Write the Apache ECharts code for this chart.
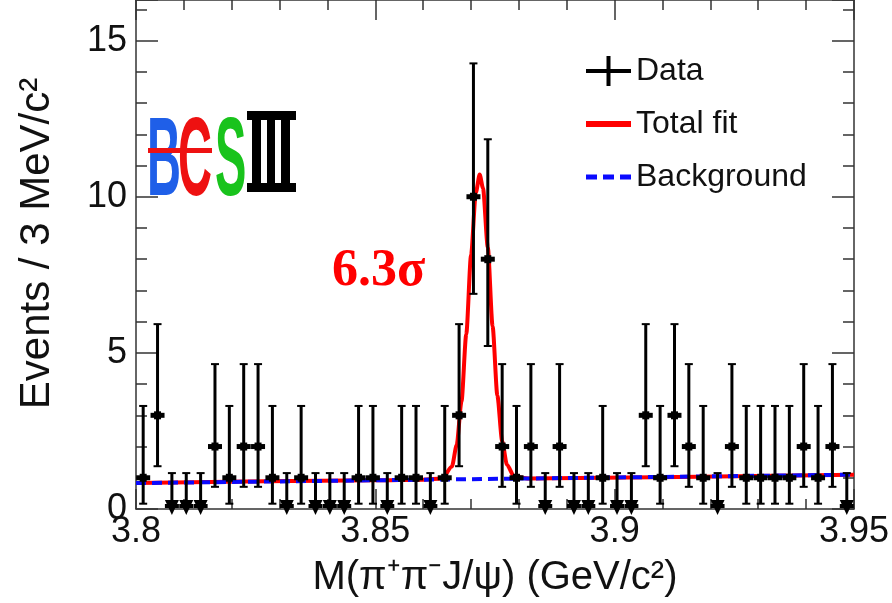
<!DOCTYPE html>
<html>
<head>
<meta charset="utf-8">
<script src="https://cdn.jsdelivr.net/npm/echarts@6/dist/echarts.min.js"></script>
<style>
html, body { margin: 0; padding: 0; background: #fff; }
#chart { width: 892px; height: 603px; }
</style>
</head>
<body>
<div id="chart"></div>
<script>
// histogram binning (GeV/c^2)
const xMin = 3.8
const xMax = 3.95
const binWidth = 0.003

// events per 3 MeV bin
const counts = [
  1, 3, 0, 0, 0, 2, 1, 2, 2, 1,
  0, 1, 0, 0, 0, 1, 1, 0, 1, 1,
  0, 1, 3, 10, 8, 2, 1, 2, 0, 2,
  0, 0, 1, 0, 0, 3, 1, 3, 2, 1,
  0, 2, 1, 1, 1, 1, 2, 1, 2, 0,
]

// asymmetric error bar ends for each count value
const errCounts = [0, 1, 2, 3, 8, 10]
const errLow = [0, 0.17, 0.71, 1.37, 5.22, 6.89]
const errHigh = [1.15, 3.30, 4.64, 5.92, 11.84, 14.27]

// total fit curve (signal + background)
const fitX = [3.800, 3.850, 3.860, 3.864, 3.866, 3.867, 3.868, 3.869, 3.870, 3.871,
  3.8718, 3.8725, 3.8735, 3.8745, 3.8755, 3.8765, 3.8775, 3.879, 3.882, 3.950]
const fitY = [0.83, 0.92, 0.94, 0.98, 1.36, 2.05, 3.44, 5.60, 8.13, 10.13,
  10.71, 10.27, 8.38, 5.85, 3.63, 2.17, 1.42, 1.04, 0.98, 1.10]

// background
const bkgX = [3.80, 3.95]
const bkgY = [0.83, 1.10]

const yTicks = [0, 5, 10, 15]

const dataRows = counts.map((n, i) => {
  const k = errCounts.indexOf(n)
  return [xMin + binWidth * (i + 0.5), n, errLow[k], errHigh[k]]
})

const chart = echarts.init(document.getElementById('chart'))
const font = 'Liberation Sans'
const axisColor = '#333'
const yMax = 16.3

const tickStyle = { color: axisColor, width: 1.5 }

chart.setOption({
  animation: false,
  textStyle: { fontFamily: font },
  grid: { left: 136, right: 37, top: 0, bottom: 94 },
  legend: {
    orient: 'vertical',
    left: 586,
    top: 55,
    padding: 0,
    itemWidth: 45,
    itemHeight: 30,
    itemGap: 21,
    symbolKeepAspect: true,
    selectedMode: false,
    textStyle: { fontSize: 32, color: '#111', fontFamily: font },
    data: [
      { name: 'Data', icon: 'path://M0,13H45V17H0Z M20.5,0H24.5V30H20.5Z', itemStyle: { color: '#000' } },
      { name: 'Total fit', icon: 'path://M0,0H45V6H0Z', itemStyle: { color: '#ff0000' } },
      { name: 'Background', icon: 'path://M0,0H11V5H0Z M17,0H28V5H17Z M34,0H45V5H34Z', itemStyle: { color: '#0a0aff' } },
    ],
  },
  xAxis: [
    {
      type: 'value',
      min: xMin,
      max: xMax,
      interval: 0.05,
      name: 'M(π\u207Aπ\u207BJ/ψ) (GeV/c\u00B2)',
      nameLocation: 'middle',
      nameGap: 49,
      nameTextStyle: { fontSize: 40, color: '#111' },
      axisLine: { onZero: false, lineStyle: tickStyle },
      axisTick: { inside: true, length: 20, lineStyle: tickStyle },
      minorTick: { show: true, splitNumber: 5, length: 10, lineStyle: tickStyle },
      axisLabel: { fontSize: 36, color: '#111', margin: 5 },
      splitLine: { show: false },
    },
    {
      type: 'value',
      position: 'top',
      min: xMin,
      max: xMax,
      interval: 0.05,
      axisLine: { onZero: false, lineStyle: tickStyle },
      axisTick: { inside: true, length: 20, lineStyle: tickStyle },
      minorTick: { show: true, splitNumber: 5, length: 10, lineStyle: tickStyle },
      axisLabel: { show: false },
      splitLine: { show: false },
    },
  ],
  yAxis: [
    {
      type: 'value',
      min: 0,
      max: yMax,
      interval: 5,
      name: 'Events / 3 MeV/c\u00B2',
      nameLocation: 'middle',
      nameGap: 78,
      nameTextStyle: { fontSize: 42, color: '#111', padding: [0, 0, 0, 22] },
      axisLine: { lineStyle: tickStyle },
      axisTick: { inside: true, length: 22, lineStyle: tickStyle },
      minorTick: { show: true, splitNumber: 5, length: 11, lineStyle: tickStyle },
      axisLabel: {
        fontSize: 36,
        color: '#111',
        margin: 9,
        formatter: (v) => (yTicks.includes(v) ? String(v) : ''),
      },
      splitLine: { show: false },
    },
    {
      type: 'value',
      position: 'right',
      min: 0,
      max: yMax,
      interval: 5,
      axisLine: { show: true, lineStyle: tickStyle },
      axisTick: { inside: true, length: 22, lineStyle: tickStyle },
      minorTick: { show: true, splitNumber: 5, length: 11, lineStyle: tickStyle },
      axisLabel: { show: false },
      splitLine: { show: false },
    },
  ],
  series: [
    {
      name: 'Total fit',
      type: 'line',
      data: fitX.map((x, i) => [x, fitY[i]]),
      symbol: 'none',
      smooth: 0.25,
      smoothMonotone: 'x',
      color: '#ff0000',
      lineStyle: { color: '#ff0000', width: 4 },
      z: 2,
    },
    {
      name: 'Background',
      type: 'line',
      data: bkgX.map((x, i) => [x, bkgY[i]]),
      symbol: 'none',
      color: '#0a0aff',
      lineStyle: { color: '#0a0aff', width: 4, type: [10, 6] },
      z: 3,
    },
    {
      name: 'Data',
      type: 'custom',
      color: '#000',
      data: dataRows,
      z: 4,
      renderItem: (params, api) => {
        const x = api.value(0)
        const n = api.value(1)
        const c = api.coord([x, n])
        const top = api.coord([x, api.value(3)])
        const bot = api.coord([x, api.value(2)])
        const st = { stroke: '#000', lineWidth: 3 }
        const kids = [
          { type: 'line', shape: { x1: c[0], y1: top[1], x2: c[0], y2: bot[1] }, style: st },
          { type: 'line', shape: { x1: c[0] - 4, y1: top[1], x2: c[0] + 4, y2: top[1] }, style: { stroke: '#000', lineWidth: 2 } },
        ]
        if (n > 0) {
          kids.push({ type: 'line', shape: { x1: c[0] - 4, y1: bot[1], x2: c[0] + 4, y2: bot[1] }, style: { stroke: '#000', lineWidth: 2 } })
          kids.push({ type: 'rect', shape: { x: c[0] - 7, y: c[1] - 2.5, width: 14, height: 5 }, style: { fill: '#000' } })
          kids.push({ type: 'rect', shape: { x: c[0] - 3.5, y: c[1] - 4, width: 7, height: 8 }, style: { fill: '#000' } })
        } else {
          kids.push({ type: 'rect', shape: { x: c[0] - 7, y: c[1] - 5, width: 14, height: 4 }, style: { fill: '#000' } })
          kids.push({ type: 'polygon', shape: { points: [[c[0] - 7, c[1] - 9], [c[0] + 7, c[1] - 9], [c[0], c[1] + 6]] }, style: { fill: '#000' } })
        }
        return { type: 'group', children: kids }
      },
    },
  ],
  graphic: [
    {
      type: 'text',
      left: 332,
      top: 246,
      style: { text: '6.3σ', fill: '#ff0000', font: 'bold 52px "Liberation Serif"' },
    },
    // BESIII logo
    {
      type: 'group',
      left: 147,
      top: 108,
      children: [
        { type: 'text', x: 0, y: 0, scaleX: 0.42, style: { text: 'B', fill: '#1f5fe8', font: 'bold 112px "Liberation Sans"' } },
        { type: 'text', x: 31, y: 0, scaleX: 0.42, style: { text: 'C', fill: '#ee1111', font: 'bold 112px "Liberation Sans"' } },
        { type: 'rect', shape: { x: 1, y: 40, width: 64, height: 5 }, style: { fill: '#ee1111' } },
        { type: 'text', x: 68, y: 0, scaleX: 0.42, style: { text: 'S', fill: '#19c31c', font: 'bold 112px "Liberation Sans"' } },
        { type: 'rect', shape: { x: 100, y: 3, width: 49, height: 9 }, style: { fill: '#000' } },
        { type: 'rect', shape: { x: 100, y: 75, width: 49, height: 9 }, style: { fill: '#000' } },
        { type: 'rect', shape: { x: 105, y: 3, width: 9, height: 80 }, style: { fill: '#000' } },
        { type: 'rect', shape: { x: 120, y: 3, width: 8, height: 80 }, style: { fill: '#000' } },
        { type: 'rect', shape: { x: 134, y: 3, width: 9, height: 80 }, style: { fill: '#000' } },
      ],
    },
  ],
})
</script>
</body>
</html>
